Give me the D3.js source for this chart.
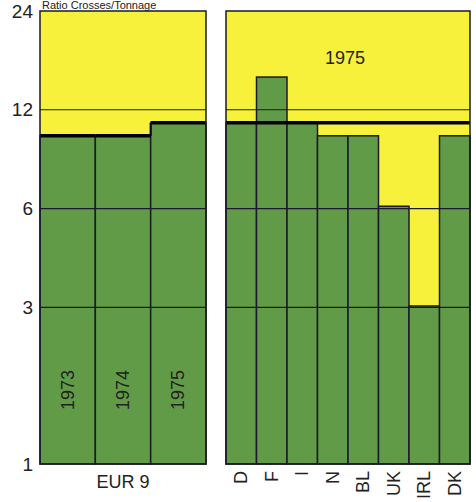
<!DOCTYPE html>
<html><head><meta charset="utf-8">
<script src="https://cdn.jsdelivr.net/npm/d3@7"></script>
<style>body{margin:0;background:#fff}svg{display:block}text{font-family:"Liberation Sans",Arial,sans-serif;fill:#222}</style>
</head><body>
<svg id="c" width="476" height="502"></svg>
<script>
const eurYears = ["1973","1974","1975"];
const eurValues = [10.0, 10.0, 10.95];
const countries = ["D","F","I","N","BL","UK","IRL","DK"];
const countryValues = [10.95, 15.1, 10.95, 10.0, 10.0, 6.1, 3.03, 10.0];
const yTicks = [1,3,6,12,24];
const refValue = 10.95;

const svg = d3.select("#c");
const yellow = "#f8f13c", green = "#629b48", ink = "#1a1a2a";
const plotTop = 11, plotBottom = 464;
const y = d3.scaleLog().domain([1,24]).range([plotBottom, plotTop]);
const xL = d3.scaleBand().domain(eurYears).range([40,206]);
const xR = d3.scaleBand().domain(countries).range([226,470]);

// title
svg.append("text").attr("x",42).attr("y",9).attr("font-size",11).text("Ratio Crosses/Tonnage");

// panels background
[[40,206],[226,470]].forEach(([a,b])=>{
  svg.append("rect").attr("x",a).attr("y",plotTop).attr("width",b-a).attr("height",plotBottom-plotTop).attr("fill",yellow);
});

// bars
svg.append("g").selectAll("rect").data(eurYears).join("rect")
  .attr("x",d=>xL(d)).attr("width",xL.bandwidth())
  .attr("y",(d,i)=>y(eurValues[i])).attr("height",(d,i)=>plotBottom-y(eurValues[i]))
  .attr("fill",green).attr("stroke",ink).attr("stroke-width",1.5);
svg.append("g").selectAll("rect").data(countries).join("rect")
  .attr("x",d=>xR(d)).attr("width",xR.bandwidth())
  .attr("y",(d,i)=>y(countryValues[i])).attr("height",(d,i)=>plotBottom-y(countryValues[i]))
  .attr("fill",green).attr("stroke",ink).attr("stroke-width",1.5);

// gridlines
const grid = yTicks.filter(t=>t>1 && t<24);
[[40,206],[226,470]].forEach(([a,b])=>{
  svg.append("g").selectAll("line").data(grid).join("line")
    .attr("x1",a).attr("x2",b).attr("y1",d=>y(d)).attr("y2",d=>y(d))
    .attr("stroke",ink).attr("stroke-width",1.1);
});

// thick tops in left panel
svg.append("g").selectAll("line").data(eurYears).join("line")
  .attr("x1",d=>xL(d)).attr("x2",d=>xL(d)+xL.bandwidth())
  .attr("y1",(d,i)=>y(eurValues[i])).attr("y2",(d,i)=>y(eurValues[i]))
  .attr("stroke","#000").attr("stroke-width",3.5);
svg.append("line").attr("x1",xL("1975")).attr("x2",xL("1975"))
  .attr("y1",y(eurValues[1])).attr("y2",y(eurValues[2])).attr("stroke","#000").attr("stroke-width",2);
// reference line right panel
svg.append("line").attr("x1",226).attr("x2",470).attr("y1",y(refValue)).attr("y2",y(refValue))
  .attr("stroke","#000").attr("stroke-width",3.5);

// panel frames
[[40,206],[226,470]].forEach(([a,b])=>{
  svg.append("rect").attr("x",a).attr("y",plotTop).attr("width",b-a).attr("height",plotBottom-plotTop)
    .attr("fill","none").attr("stroke",ink).attr("stroke-width",1.5);
});

// y axis labels
svg.append("g").selectAll("text").data(yTicks).join("text")
  .attr("x",33).attr("y",d=>y(d)).attr("dy","0.35em").attr("text-anchor","end")
  .attr("font-size",19).text(d=>d);

// year labels inside bars
svg.append("g").selectAll("text").data(eurYears).join("text")
  .attr("transform",d=>`translate(${xL(d)+xL.bandwidth()/2+6},390) rotate(-90)`)
  .attr("text-anchor","middle").attr("font-size",18).text(d=>d);

svg.append("text").attr("x",123).attr("y",488).attr("text-anchor","middle").attr("font-size",18).text("EUR 9");
svg.append("text").attr("x",345).attr("y",64).attr("text-anchor","middle").attr("font-size",18).text("1975");

// country labels
svg.append("g").selectAll("text").data(countries).join("text")
  .attr("transform",d=>`translate(${xR(d)+xR.bandwidth()/2+6},471) rotate(-90)`)
  .attr("text-anchor","end").attr("font-size",18).text(d=>d);
</script>
</body></html>
